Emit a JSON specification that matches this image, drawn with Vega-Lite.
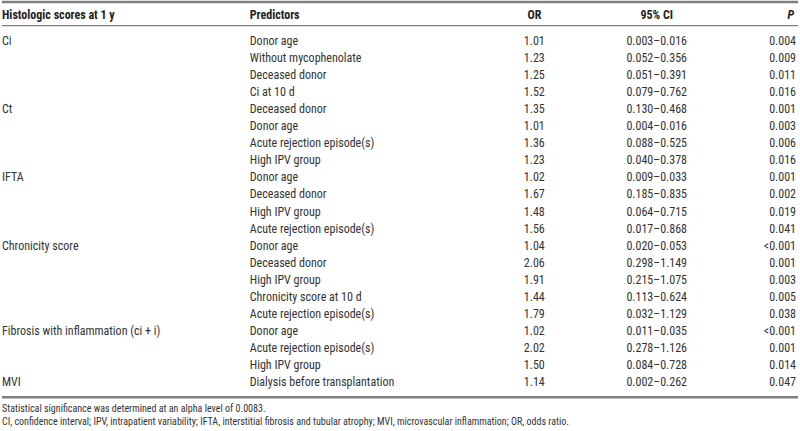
{
  "$schema": "https://vega.github.io/schema/vega-lite/v6.json",
  "width": 800,
  "height": 431,
  "autosize": {"type": "fit", "contains": "padding"},
  "padding": 0,
  "background": "white",
  "config": {"view": {"stroke": null}, "text": {"font": "'Liberation Sans Narrow', 'Arial Narrow', 'Roboto Condensed', 'DejaVu Sans Condensed', Roboto, sans-serif"}},
  "datasets": {
    "rows": [
      {"row": 0, "score": "Ci", "predictor": "Donor age", "or": "1.01", "ci": "0.003–0.016", "p": "0.004"},
      {"row": 1, "score": "", "predictor": "Without mycophenolate", "or": "1.23", "ci": "0.052–0.356", "p": "0.009"},
      {"row": 2, "score": "", "predictor": "Deceased donor", "or": "1.25", "ci": "0.051–0.391", "p": "0.011"},
      {"row": 3, "score": "", "predictor": "Ci at 10 d", "or": "1.52", "ci": "0.079–0.762", "p": "0.016"},
      {"row": 4, "score": "Ct", "predictor": "Deceased donor", "or": "1.35", "ci": "0.130–0.468", "p": "0.001"},
      {"row": 5, "score": "", "predictor": "Donor age", "or": "1.01", "ci": "0.004–0.016", "p": "0.003"},
      {"row": 6, "score": "", "predictor": "Acute rejection episode(s)", "or": "1.36", "ci": "0.088–0.525", "p": "0.006"},
      {"row": 7, "score": "", "predictor": "High IPV group", "or": "1.23", "ci": "0.040–0.378", "p": "0.016"},
      {"row": 8, "score": "IFTA", "predictor": "Donor age", "or": "1.02", "ci": "0.009–0.033", "p": "0.001"},
      {"row": 9, "score": "", "predictor": "Deceased donor", "or": "1.67", "ci": "0.185–0.835", "p": "0.002"},
      {"row": 10, "score": "", "predictor": "High IPV group", "or": "1.48", "ci": "0.064–0.715", "p": "0.019"},
      {"row": 11, "score": "", "predictor": "Acute rejection episode(s)", "or": "1.56", "ci": "0.017–0.868", "p": "0.041"},
      {"row": 12, "score": "Chronicity score", "predictor": "Donor age", "or": "1.04", "ci": "0.020–0.053", "p": "<0.001"},
      {"row": 13, "score": "", "predictor": "Deceased donor", "or": "2.06", "ci": "0.298–1.149", "p": "0.001"},
      {"row": 14, "score": "", "predictor": "High IPV group", "or": "1.91", "ci": "0.215–1.075", "p": "0.003"},
      {"row": 15, "score": "", "predictor": "Chronicity score at 10 d", "or": "1.44", "ci": "0.113–0.624", "p": "0.005"},
      {"row": 16, "score": "", "predictor": "Acute rejection episode(s)", "or": "1.79", "ci": "0.032–1.129", "p": "0.038"},
      {"row": 17, "score": "Fibrosis with inflammation (ci + i)", "predictor": "Donor age", "or": "1.02", "ci": "0.011–0.035", "p": "<0.001"},
      {"row": 18, "score": "", "predictor": "Acute rejection episode(s)", "or": "2.02", "ci": "0.278–1.126", "p": "0.001"},
      {"row": 19, "score": "", "predictor": "High IPV group", "or": "1.50", "ci": "0.084–0.728", "p": "0.014"},
      {"row": 20, "score": "MVI", "predictor": "Dialysis before transplantation", "or": "1.14", "ci": "0.002–0.262", "p": "0.047"}
    ],
    "notes": [
      {"row": 21.58, "note": "Statistical significance was determined at an alpha level of 0.0083."},
      {"row": 22.34, "note": "CI, confidence interval; IPV, intrapatient variability; IFTA, interstitial fibrosis and tubular atrophy; MVI, microvascular inflammation; OR, odds ratio."}
    ],
    "header": [
      {"row": -1.52, "score": "Histologic scores at 1 y", "predictor": "Predictors", "or": "OR", "ci": "95% CI", "p": "P"}
    ]
  },
  "layer": [
    {
      "data": {"name": "header"},
      "mark": {"type": "rule", "color": "#808080", "strokeWidth": 2.5},
      "encoding": {
        "x": {"datum": 0, "type": "quantitative", "scale": {"domain": [0, 800], "nice": false, "zero": false}, "axis": null},
        "x2": {"datum": 800},
        "y": {"datum": -2.28, "type": "quantitative", "scale": {"domain": [-2.339, 22.865], "reverse": true, "nice": false, "zero": false}, "axis": null}
      }
    },
    {
      "data": {"name": "header"},
      "mark": {"type": "rule", "color": "#808080", "strokeWidth": 1.2},
      "encoding": {
        "x": {"datum": 0, "type": "quantitative", "axis": null},
        "x2": {"datum": 800},
        "y": {"datum": -0.9, "type": "quantitative", "axis": null}
      }
    },
    {
      "data": {"name": "header"},
      "mark": {"type": "rule", "color": "#808080", "strokeWidth": 2.5},
      "encoding": {
        "x": {"datum": 0, "type": "quantitative", "axis": null},
        "x2": {"datum": 800},
        "y": {"datum": 20.88, "type": "quantitative", "axis": null}
      }
    },
    {
      "data": {"name": "header"},
      "mark": {"type": "text", "align": "left", "baseline": "middle", "fontSize": 12, "fontWeight": "bold", "color": "#222222"},
      "encoding": {
        "x": {"datum": 0, "type": "quantitative", "axis": null},
        "y": {"field": "row", "type": "quantitative", "axis": null},
        "text": {"field": "score"}
      }
    },
    {
      "data": {"name": "header"},
      "mark": {"type": "text", "align": "left", "baseline": "middle", "fontSize": 12, "fontWeight": "bold", "color": "#222222"},
      "encoding": {
        "x": {"datum": 249, "type": "quantitative", "axis": null},
        "y": {"field": "row", "type": "quantitative", "axis": null},
        "text": {"field": "predictor"}
      }
    },
    {
      "data": {"name": "header"},
      "mark": {"type": "text", "align": "center", "baseline": "middle", "fontSize": 12, "fontWeight": "bold", "color": "#222222"},
      "encoding": {
        "x": {"datum": 535, "type": "quantitative", "axis": null},
        "y": {"field": "row", "type": "quantitative", "axis": null},
        "text": {"field": "or"}
      }
    },
    {
      "data": {"name": "header"},
      "mark": {"type": "text", "align": "center", "baseline": "middle", "fontSize": 12, "fontWeight": "bold", "color": "#222222"},
      "encoding": {
        "x": {"datum": 658, "type": "quantitative", "axis": null},
        "y": {"field": "row", "type": "quantitative", "axis": null},
        "text": {"field": "ci"}
      }
    },
    {
      "data": {"name": "header"},
      "mark": {"type": "text", "align": "right", "baseline": "middle", "fontSize": 12, "fontWeight": "bold", "fontStyle": "italic", "color": "#222222"},
      "encoding": {
        "x": {"datum": 796, "type": "quantitative", "axis": null},
        "y": {"field": "row", "type": "quantitative", "axis": null},
        "text": {"field": "p"}
      }
    },
    {
      "data": {"name": "rows"},
      "mark": {"type": "text", "align": "left", "baseline": "middle", "fontSize": 12, "color": "#333333"},
      "encoding": {
        "x": {"datum": 0, "type": "quantitative", "axis": null},
        "y": {"field": "row", "type": "quantitative", "axis": null},
        "text": {"field": "score"}
      }
    },
    {
      "data": {"name": "rows"},
      "mark": {"type": "text", "align": "left", "baseline": "middle", "fontSize": 12, "color": "#333333"},
      "encoding": {
        "x": {"datum": 249, "type": "quantitative", "axis": null},
        "y": {"field": "row", "type": "quantitative", "axis": null},
        "text": {"field": "predictor"}
      }
    },
    {
      "data": {"name": "rows"},
      "mark": {"type": "text", "align": "center", "baseline": "middle", "fontSize": 12, "color": "#333333"},
      "encoding": {
        "x": {"datum": 535, "type": "quantitative", "axis": null},
        "y": {"field": "row", "type": "quantitative", "axis": null},
        "text": {"field": "or"}
      }
    },
    {
      "data": {"name": "rows"},
      "mark": {"type": "text", "align": "center", "baseline": "middle", "fontSize": 12, "color": "#333333"},
      "encoding": {
        "x": {"datum": 658, "type": "quantitative", "axis": null},
        "y": {"field": "row", "type": "quantitative", "axis": null},
        "text": {"field": "ci"}
      }
    },
    {
      "data": {"name": "rows"},
      "mark": {"type": "text", "align": "right", "baseline": "middle", "fontSize": 12, "color": "#333333"},
      "encoding": {
        "x": {"datum": 798, "type": "quantitative", "axis": null},
        "y": {"field": "row", "type": "quantitative", "axis": null},
        "text": {"field": "p"}
      }
    },
    {
      "data": {"name": "notes"},
      "mark": {"type": "text", "align": "left", "baseline": "middle", "fontSize": 10, "color": "#333333"},
      "encoding": {
        "x": {"datum": 0, "type": "quantitative", "axis": null},
        "y": {"field": "row", "type": "quantitative", "axis": null},
        "text": {"field": "note"}
      }
    }
  ]
}
